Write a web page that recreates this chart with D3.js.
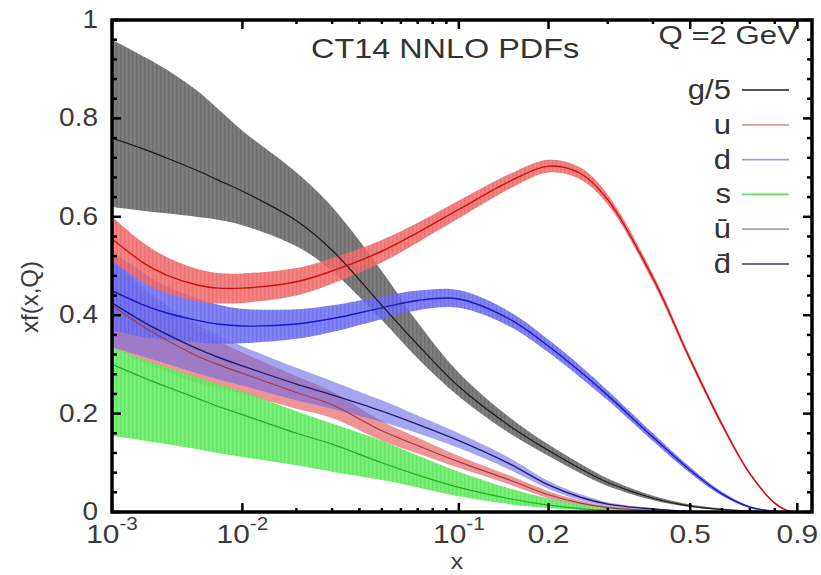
<!DOCTYPE html>
<html><head><meta charset="utf-8">
<script src="https://cdn.jsdelivr.net/npm/d3@7"></script>
<style>body{margin:0;background:#fff}svg{display:block}</style>
</head><body>
<svg id="c" width="821" height="575"></svg>
<script>
// ---- data ----
const xGrid = [0.001,0.002,0.003,0.005,0.007,0.01,0.02,0.03,0.05,0.07,0.1,0.15,0.2,0.25,0.3,0.4,0.5,0.6,0.7,0.8,0.85,0.9];

const gCen = [0.76,0.737,0.72,0.695,0.675,0.652,0.592,0.532,0.42,0.34,0.255,0.175,0.125,0.088,0.06,0.028,0.012,0.005,0.002,0.0005,0.0002,0];
const gHi  = [0.96,0.925,0.9,0.858,0.82,0.775,0.69,0.62,0.49,0.385,0.283,0.192,0.137,0.098,0.068,0.033,0.015,0.007,0.003,0.001,0.0005,0];
const gLo  = [0.62,0.612,0.607,0.6,0.594,0.583,0.54,0.49,0.39,0.312,0.235,0.16,0.114,0.079,0.053,0.024,0.01,0.004,0.0015,0.0003,0.0001,0];

const uCen = [0.555,0.505,0.482,0.462,0.455,0.455,0.468,0.49,0.53,0.568,0.615,0.672,0.703,0.688,0.635,0.475,0.31,0.178,0.078,0.018,0.004,0];
const uErr = [0.045,0.04,0.037,0.033,0.031,0.03,0.028,0.026,0.023,0.02,0.018,0.015,0.013,0.012,0.01,0.008,0.006,0.005,0.003,0.002,0.001,0];

const dCen = [0.45,0.42,0.405,0.39,0.382,0.378,0.382,0.393,0.415,0.43,0.433,0.392,0.337,0.285,0.237,0.152,0.085,0.037,0.01,0.001,0,0];
const dErr = [0.08,0.065,0.055,0.045,0.04,0.035,0.03,0.027,0.023,0.02,0.018,0.015,0.013,0.012,0.01,0.008,0.006,0.004,0.002,0.001,0,0];

const sCen = [0.3,0.272,0.255,0.232,0.215,0.198,0.16,0.138,0.1,0.075,0.05,0.027,0.014,0.007,0.003,0.001,0,0,0,0,0,0];
const sHi  = [0.335,0.31,0.295,0.275,0.26,0.245,0.205,0.18,0.145,0.115,0.082,0.048,0.028,0.016,0.009,0.003,0.001,0,0,0,0,0];
const sLo  = [0.155,0.145,0.138,0.128,0.12,0.112,0.095,0.082,0.065,0.05,0.032,0.016,0.008,0.004,0.002,0,0,0,0,0,0,0];

const ubCen = [0.42,0.375,0.35,0.318,0.3,0.282,0.243,0.218,0.165,0.135,0.102,0.065,0.035,0.018,0.009,0.003,0,0,0,0,0,0];
const ubErr = [0.085,0.072,0.064,0.055,0.048,0.042,0.033,0.027,0.02,0.016,0.012,0.009,0.007,0.005,0.003,0.001,0,0,0,0,0,0];

const dbCen = [0.425,0.385,0.362,0.333,0.315,0.297,0.26,0.238,0.205,0.178,0.145,0.098,0.055,0.03,0.016,0.006,0.001,0,0,0,0,0];
const dbErr = [0.09,0.07,0.06,0.05,0.045,0.04,0.033,0.028,0.022,0.018,0.015,0.012,0.008,0.006,0.004,0.002,0,0,0,0,0,0];

const xMajorTicks = [0.001,0.01,0.1,0.2,0.5,0.9];
const xMinorTicks = [0.02,0.03,0.04,0.05,0.06,0.07,0.08,0.09,0.3,0.4,0.6,0.7,0.8];
const yMajorTicks = [0,0.2,0.4,0.6,0.8,1];
const yMinorTicks = [0.04,0.08,0.12,0.16,0.24,0.28,0.32,0.36,0.44,0.48,0.52,0.56,0.64,0.68,0.72,0.76,0.84,0.88,0.92,0.96];
const yTickLabels = ["0","0.2","0.4","0.6","0.8","1"];
const xTickLabels = [["10","-3"],["10","-2"],["10","-1"],["0.2",""],["0.5",""],["0.9",""]];
const legendLabels = ["g/5","u","d","s","\u016B","d\u0304"];

// ---- layout ----
const L = 112, R = 812, T = 20, B = 512;
const svg = d3.select("#c");
const x = d3.scalePow().exponent(0.22).domain([0.001, 0.97]).range([L, R]);
const y = d3.scaleLinear().domain([0, 1]).range([B, T]);

const defs = svg.append("defs");
defs.append("clipPath").attr("id","clip")
  .append("rect").attr("x",L).attr("y",T).attr("width",R-L).attr("height",B-T);
function stripes(id, c1, c2){
  const p = defs.append("pattern").attr("id",id).attr("patternUnits","userSpaceOnUse")
    .attr("width",4).attr("height",10);
  p.append("rect").attr("width",4).attr("height",10).attr("fill",c1);
  p.append("rect").attr("width",1.5).attr("height",10).attr("fill",c2);
}
stripes("pg","#7d7d7d","#6e6e6e");
stripes("pu","#f07272","#e86060");
stripes("pd","#7272f2","#6262e8");
stripes("ps","#68ee68","#5ae05a");

const plot = svg.append("g").attr("clip-path","url(#clip)");
const curve = d3.curveCatmullRom.alpha(0.5);

function band(lo, hi, fill, op){
  const area = d3.area().curve(curve)
    .x((d,i)=>x(xGrid[i])).y0((d,i)=>y(lo[i])).y1((d,i)=>y(hi[i]));
  plot.append("path").datum(xGrid).attr("d",area).attr("fill",fill).attr("fill-opacity",op);
}
function line(c, stroke, w){
  const ln = d3.line().curve(curve).x((d,i)=>x(xGrid[i])).y((d,i)=>y(c[i]));
  plot.append("path").datum(xGrid).attr("d",ln).attr("fill","none").attr("stroke",stroke).attr("stroke-width",w);
}
const sub = (a,b)=>a.map((v,i)=>v-b[i]);
const add = (a,b)=>a.map((v,i)=>v+b[i]);

band(gLo, gHi, "url(#pg)", 1);
band(sub(ubCen,ubErr), add(ubCen,ubErr), "#e87070", 0.75);
band(sub(dbCen,dbErr), add(dbCen,dbErr), "#6a6ae6", 0.6);
band(sLo, sHi, "url(#ps)", 0.9);
band(sub(dCen,dErr), add(dCen,dErr), "url(#pd)", 0.88);
band(sub(uCen,uErr), add(uCen,uErr), "url(#pu)", 0.88);

line(gCen, "#1a1a1a", 1.2);
line(sCen, "#1fb01f", 1.2);
line(ubCen, "#a33a4a", 1.2);
line(dbCen, "#1e1e70", 1.4);
line(dCen, "#1a1ac0", 1.4);
line(uCen, "#cc1010", 1.4);

// ---- axes / frame ----
const ax = svg.append("g").attr("stroke","#000");
function xticks(vals, len){
  vals.forEach(v=>{
    ax.append("line").attr("x1",x(v)).attr("x2",x(v)).attr("y1",B).attr("y2",B-len).attr("stroke-width",2.5);
    ax.append("line").attr("x1",x(v)).attr("x2",x(v)).attr("y1",T).attr("y2",T+len).attr("stroke-width",2.5);
  });
}
function yticks(vals, len){
  vals.forEach(v=>{
    ax.append("line").attr("x1",L).attr("x2",L+len).attr("y1",y(v)).attr("y2",y(v)).attr("stroke-width",2.5);
    ax.append("line").attr("x1",R).attr("x2",R-len).attr("y1",y(v)).attr("y2",y(v)).attr("stroke-width",2.5);
  });
}
xticks(xMajorTicks, 9); xticks(xMinorTicks, 4);
yticks(yMajorTicks, 9); yticks(yMinorTicks, 5);
svg.append("rect").attr("x",L).attr("y",T).attr("width",R-L).attr("height",B-T)
  .attr("fill","none").attr("stroke","#000").attr("stroke-width",3.5);

const font = "Liberation Sans, Arial, sans-serif";
// text helper: horizontally stretched text (the source picture is slightly wide)
function stext(px, py, anchor, size, sx, fill){
  return svg.append("text")
    .attr("transform",`translate(${px},${py}) scale(${sx},1)`)
    .attr("text-anchor",anchor).attr("font-family",font)
    .attr("font-size",size).attr("fill",fill||"#3a3a3a");
}
// y tick labels
yMajorTicks.forEach((v,i)=>{ stext(98, y(v)+8, "end", 25, 1.12).text(yTickLabels[i]); });
// x tick labels
xMajorTicks.forEach((v,i)=>{
  const t = stext(x(v), 543, "middle", 26, 1.15);
  t.append("tspan").text(xTickLabels[i][0]);
  if (xTickLabels[i][1]) t.append("tspan").attr("dy",-13).attr("font-size",18).text(xTickLabels[i][1]);
});
// axis titles
stext(457, 569, "middle", 22, 1.12).text("x");
svg.append("text").attr("transform","translate(38,297) rotate(-90)").attr("text-anchor","middle")
  .attr("font-family",font).attr("font-size",24).attr("fill","#3a3a3a").text("xf(x,Q)");

// title & legend
stext(311, 58, "start", 27, 1.2, "#333").text("CT14 NNLO PDFs");
stext(798, 44, "end", 26, 1.2, "#333").text("Q =2 GeV");
const legColors = ["#555555","#e09a9a","#9a9ae0","#66dd66","#b899a8","#6a6aa8"];
legendLabels.forEach((lab,i)=>{
  const yy = 90 + i*34.8;
  stext(731, yy+9, "end", 27, 1.15, "#333").text(lab);
  svg.append("line").attr("x1",742).attr("x2",789).attr("y1",yy).attr("y2",yy)
    .attr("stroke",legColors[i]).attr("stroke-width",1.8);
});
</script>
</body></html>
